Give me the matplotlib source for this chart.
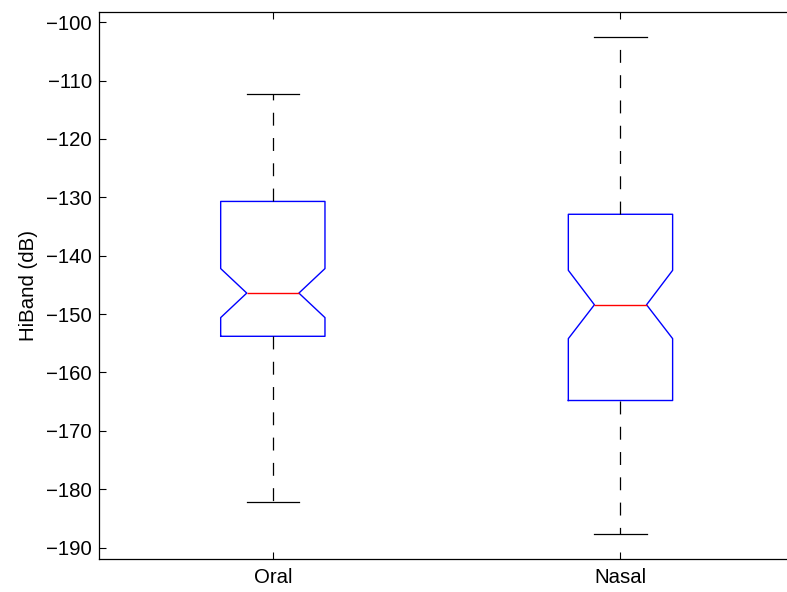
import matplotlib
matplotlib.use("Agg")
import matplotlib.pyplot as plt

plt.rcParams['font.family'] = ['Liberation Sans', 'DejaVu Sans']
plt.rcParams['lines.scale_dashes'] = False

# per-group summary stats (dB)
groups = ["Oral", "Nasal"]
whisker_hi = [-112.3, -102.5]
q3 = [-130.7, -132.9]
notch_hi = [-142.2, -142.5]
median = [-146.4, -148.4]
notch_lo = [-150.6, -154.2]
q1 = [-153.8, -164.8]
whisker_lo = [-182.1, -187.7]

stats = []
for i, g in enumerate(groups):
    stats.append(dict(label=g, med=median[i], q1=q1[i], q3=q3[i],
                      cilo=notch_lo[i], cihi=notch_hi[i],
                      whislo=whisker_lo[i], whishi=whisker_hi[i], fliers=[]))

fig = plt.figure(figsize=(7.87, 5.92), dpi=100)
# axes runs past the right edge of the figure
ax = fig.add_axes([99 / 787, (592 - 559.3) / 592, (794.3 - 99) / 787, (559.3 - 11.7) / 592])

lw = 1.0
ax.bxp(stats, positions=[1, 2], widths=0.3, shownotches=True, showfliers=False,
       boxprops=dict(color="blue", linewidth=lw),
       medianprops=dict(color="red", linewidth=lw),
       whiskerprops=dict(color="black", linewidth=0.9, linestyle=(0, (9.3, 8.9))),
       capprops=dict(color="black", linewidth=0.9))

ax.set_xlim(0.5, 2.5)
ax.set_ylim(-192.0, -98.2)
ax.set_yticks(range(-190, -99, 10))
ax.set_xticks([1, 2])
ax.set_xticklabels(groups)
ax.set_ylabel("HiBand (dB)", fontsize=14.7, labelpad=6)

ax.tick_params(axis="both", direction="in", length=5, width=0.8, labelsize=14.7,
               top=True, right=False)
ax.tick_params(axis="y", pad=5)
ax.tick_params(axis="x", pad=6.5)
for s in ax.spines.values():
    s.set_linewidth(0.9)
ax.spines["right"].set_visible(False)

fig.savefig("out.png", dpi=100)
